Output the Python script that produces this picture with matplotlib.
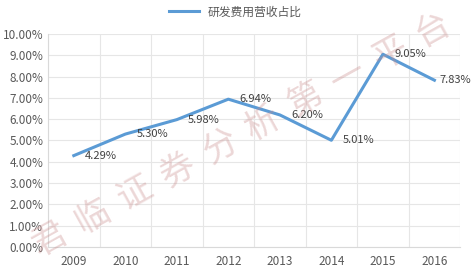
import matplotlib
matplotlib.use("Agg")
import matplotlib.pyplot as plt
from matplotlib.ticker import FuncFormatter

plt.rcParams['font.family'] = ['Noto Sans CJK SC', 'DejaVu Sans']

years = ["2009", "2010", "2011", "2012", "2013", "2014", "2015", "2016"]
ratio = [4.29, 5.30, 5.98, 6.94, 6.20, 5.01, 9.05, 7.83]
series_name = "研发费用营收占比"
watermark = "君临证券分析第一平台"

W, H = 471, 272
fig = plt.figure(figsize=(W / 100, H / 100), dpi=100)
ax = fig.add_axes([0.102, 0.092, 0.875, 0.783])

x = list(range(len(years)))
line, = ax.plot(x, ratio, color='#5B9BD5', linewidth=2.2, label=series_name, zorder=3)

for xi, v in zip(x, ratio):
    dx = 4 if xi == len(years) - 1 else 8
    ax.annotate(f"{v:.2f}%", (xi, v), xytext=(dx, 0), textcoords='offset points',
                ha='left', va='center', fontsize=8, color='#404040', zorder=4)

ax.set_xlim(-0.5, len(years) - 0.5)
ax.set_ylim(0, 10)
ax.set_yticks([i for i in range(11)])
ax.yaxis.set_major_formatter(FuncFormatter(lambda v, p: f"{v:.2f}%"))
ax.set_xticks(x)
ax.set_xticklabels(years)
ax.set_xticks([i - 0.5 for i in range(len(years) + 1)], minor=True)

ax.grid(axis='y', which='major', color='#E6E6E6', linewidth=0.8)
ax.grid(axis='x', which='minor', color='#E6E6E6', linewidth=0.8)
ax.tick_params(which='both', length=0, labelsize=8.5, colors='#595959')
ax.tick_params(axis='x', pad=6)
for s in ['top', 'right']:
    ax.spines[s].set_visible(False)
for s in ['left', 'bottom']:
    ax.spines[s].set_color('#D9D9D9')

fig.legend(handles=[line], loc='upper center', bbox_to_anchor=(0.5, 1.01), frameon=False,
           fontsize=8.5, handlelength=2.5, labelcolor='#595959', borderpad=0.2)

# diagonal watermark, one character at a time
x0, y0, x1, y1 = 50, 240, 433, 30
n = len(watermark)
for i, ch in enumerate(watermark):
    px = x0 + (x1 - x0) * i / (n - 1)
    py = y0 + (y1 - y0) * i / (n - 1)
    fig.text(px / W, 1 - py / H, ch, rotation=29, fontsize=25, color='#C98C8C',
             alpha=0.35, ha='center', va='center', zorder=0)

fig.savefig("out.png", dpi=100)
